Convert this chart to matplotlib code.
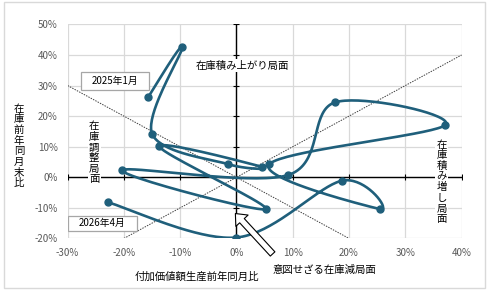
import numpy as np
import matplotlib
matplotlib.use('Agg')
from matplotlib import pyplot as plt
from matplotlib.patches import Rectangle

plt.rcParams['font.family'] = ['Noto Sans CJK JP', 'DejaVu Sans']

# monthly points, Jan 2025 .. Apr 2026
months = ['2025年1月', '2025年2月', '2025年3月', '2025年4月', '2025年5月', '2025年6月',
          '2025年7月', '2025年8月', '2025年9月', '2025年10月', '2025年11月', '2025年12月',
          '2026年1月', '2026年2月', '2026年3月', '2026年4月']
value_added = [-15.7, -9.6, -15.0, -1.5, 4.6, -13.7, 5.2, -20.3,
               9.2, 17.5, 37.1, 5.8, 25.5, 18.8, 0.0, -22.8]   # 付加価値額生産 前年同月比 (%)
inventory = [26.2, 42.6, 14.3, 4.3, 3.4, 10.1, -10.4, 2.3,
             0.75, 24.5, 17.1, 4.2, -10.4, -1.1, -19.7, -8.2]   # 在庫 前年同月末比 (%)

# 45-degree guide lines
guide_down_x = [-30, 20]
guide_down_y = [30, -20]
guide_up_x = [-20, 40]
guide_up_y = [-20, 40]

x_ticks = list(range(-30, 41, 10))
y_ticks = list(range(-20, 51, 10))

LINE_COLOR = '#1f5f7b'
GRID_COLOR = '#d9d9d9'
TICK_COLOR = '#595959'


def smooth_path(ax, xs, ys, n=40):
    """Excel-like smoothed line: cubic bezier through the points (in pixel space)."""
    pts = ax.transData.transform(np.column_stack([xs, ys]))
    ext = np.vstack([pts[0], pts, pts[-1]])
    t = np.linspace(0, 1, n)[1:, None]
    out = [pts[0]]
    for i in range(len(pts) - 1):
        p0, p3 = ext[i + 1], ext[i + 2]
        p1 = p0 + (ext[i + 2] - ext[i]) / 6
        p2 = p3 - (ext[i + 3] - ext[i + 1]) / 6
        seg = (1 - t) ** 3 * p0 + 3 * (1 - t) ** 2 * t * p1 + 3 * (1 - t) * t ** 2 * p2 + t ** 3 * p3
        out.extend(seg)
    out = ax.transData.inverted().transform(np.array(out))
    return out[:, 0], out[:, 1]


fig = plt.figure(figsize=(4.9, 2.94), dpi=100)
fig.patches.append(Rectangle((4 / 490, 6 / 294), 481 / 490, 286 / 294, transform=fig.transFigure,
                             fill=False, ec=GRID_COLOR, lw=1))
ax = fig.add_axes([0.138, 0.189, 0.804, 0.728])
ax.set_xlim(-30, 40)
ax.set_ylim(-20, 50)
ax.set_xticks(x_ticks)
ax.set_yticks(y_ticks)
ax.set_xticklabels([f'{v}%' for v in x_ticks])
ax.set_yticklabels([f'{v}%' for v in y_ticks])
ax.tick_params(length=0, labelsize=7, labelcolor=TICK_COLOR, pad=7)
for s in ax.spines.values():
    s.set_visible(False)
ax.grid(True, color=GRID_COLOR, lw=0.9)
ax.set_axisbelow(True)

# axis lines through zero with small tick marks
ax.axhline(0, color='black', lw=1, zorder=1)
ax.axvline(0, color='black', lw=1, zorder=1)
ax.plot(x_ticks, [0] * len(x_ticks), ls='none', marker='|', ms=4, mew=0.8, color='black', zorder=1)
ax.plot([0] * len(y_ticks), y_ticks, ls='none', marker='_', ms=4, mew=0.8, color='black', zorder=1)

ax.plot(guide_down_x, guide_down_y, color='#404040', lw=0.7, ls=(0, (1.5, 1.2)), zorder=2)
ax.plot(guide_up_x, guide_up_y, color='#404040', lw=0.7, ls=(0, (1.5, 1.2)), zorder=2)

sx, sy = smooth_path(ax, value_added, inventory)
ax.plot(sx, sy, color=LINE_COLOR, lw=1.9, solid_capstyle='round', zorder=4)
ax.plot(value_added, inventory, ls='none', marker='o', ms=5, color=LINE_COLOR, zorder=5)

# phase labels
box = dict(fc='white', ec='none', pad=1)
ax.text(1.1, 36.5, '在庫積み上がり局面', ha='center', va='center', fontsize=7.5, bbox=box, zorder=3)
ax.text(-25.3, 8.0, '\n'.join('在庫調整局面'), ha='center', va='center', fontsize=7.5,
        linespacing=1.08, bbox=box, zorder=3)
ax.text(36.5, -1.5, '\n'.join('在庫積み増し局面'), ha='center', va='center', fontsize=7.5,
        linespacing=1.08, bbox=box, zorder=3)

# start / end boxes
for (x0, y0, x1, y1), label in [((-27.7, 28.5, -15.5, 34.5), months[0]),
                               ((-29.9, -17.5, -17.75, -12.6), months[-1])]:
    ax.add_patch(Rectangle((x0, y0), x1 - x0, y1 - y0, fc='white', ec='#a6a6a6', lw=0.9, zorder=6))
    ax.text((x0 + x1) / 2, (y0 + y1) / 2, label, ha='center', va='center', fontsize=7, zorder=7)

# axis titles
fig.text(19 / 490, 1 - 146 / 294, '\n'.join('在庫前年同月末比'), ha='center', va='center',
         fontsize=7.5, linespacing=1.08)
fig.text(197 / 490, 1 - 277 / 294, '付加価値額生産前年同月比', ha='center', va='center', fontsize=7.5)
fig.text(324 / 490, 1 - 270 / 294, '意図せざる在庫減局面', ha='center', va='center', fontsize=7.5)

# hollow block arrow pointing at the lower-left quadrant
ax.annotate('', xy=(233.5, 294 - 211.5), xycoords='figure pixels',
            xytext=(274.5, 294 - 256), textcoords='figure pixels',
            arrowprops=dict(arrowstyle='simple,head_width=1.2,head_length=0.7,tail_width=0.45',
                            mutation_scale=10, fc='white', ec='black', lw=0.8),
            zorder=8, annotation_clip=False)

fig.savefig('out.png', dpi=100)
